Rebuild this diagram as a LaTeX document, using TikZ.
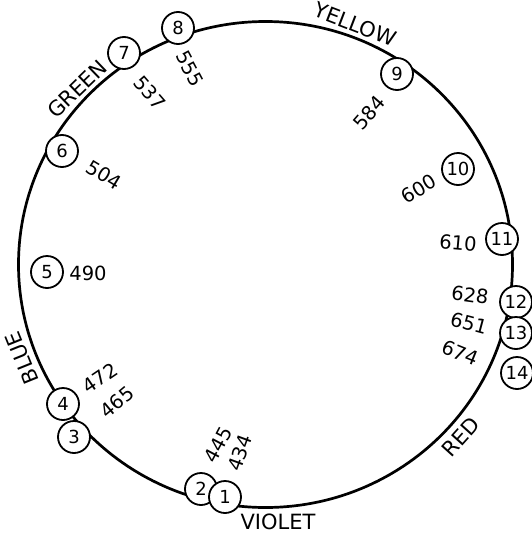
\documentclass[tikz,border=0pt]{standalone}
\usepackage{fontspec}
\setmainfont{DejaVu Sans}

\begin{document}
\begin{tikzpicture}[x=1pt, y=-1pt,
    num/.style={draw, circle, line width=1.8pt, fill=white, minimum size=32pt,
      inner sep=0pt, font=\fontsize{18}{18}\selectfont},
    wl/.style={inner sep=0pt, font=\fontsize{19.5}{19.5}\selectfont},
    hue/.style={inner sep=0pt, font=\fontsize{21}{21}\selectfont}]
\useasboundingbox (0,0) rectangle (532,536);
% Hue circle
\coordinate (c) at (265.5,264.5);
\draw[line width=2.7pt] (c) ellipse [x radius=247pt, y radius=243pt];
% Numbered stations round the circle
\node[num] (n2) at (201,489) {2};
\node[num] (n1) at (225,497) {1};
\node[num] (n4) at (63,404) {4};
\node[num] (n3) at (74,437) {3};
\node[num] (n5) at (47,272) {5};
\node[num] (n6) at (62,151) {6};
\node[num] (n7) at (124,53) {7};
\node[num] (n8) at (178,28) {8};
\node[num] (n9) at (397,74) {9};
\node[num] (n10) at (458,169) {10};
\node[num] (n11) at (502,239) {11};
\node[num] (n12) at (516,302) {12};
\node[num] (n13) at (516,333) {13};
\node[num] (n14) at (517,373) {14};
% Wavelengths
\node[wl, rotate=70] (w434) at (240,453) {434};
\node[wl, rotate=62] (w445) at (218,445) {445};
\node[wl, rotate=40] (w465) at (117,402) {465};
\node[wl, rotate=34] (w472) at (100,378) {472};
\node[wl] (w490) at (88,273) {490};
\node[wl, rotate=-31] (w504) at (104,175) {504};
\node[wl, rotate=-49] (w537) at (150,93) {537};
\node[wl, rotate=-62] (w555) at (190,69) {555};
\node[wl, rotate=49] (w584) at (369,113) {584};
\node[wl, rotate=31] (w600) at (419,189) {600};
\node[wl, rotate=-5] (w610) at (458,243) {610};
\node[wl, rotate=-8] (w628) at (470,295) {628};
\node[wl, rotate=-15] (w651) at (469,323) {651};
\node[wl, rotate=-22] (w674) at (460,353) {674};
% Colour names
\node[hue, rotate=44] (green) at (77,89) {GREEN};
\node[hue, rotate=-21] (yellow) at (355,24) {YELLOW};
\node[hue, rotate=112] (blue) at (22,358) {BLUE};
\node[hue, rotate=48] (red) at (461,437) {RED};
\node[hue] (violet) at (278,522) {VIOLET};
\end{tikzpicture}
\end{document}
